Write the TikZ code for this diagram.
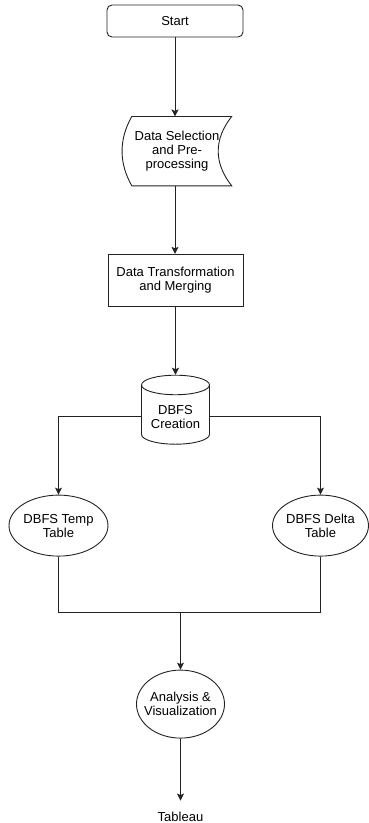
\documentclass[tikz,border=0pt]{standalone}
\usepackage{fontspec}
\setmainfont{Liberation Sans}
\usetikzlibrary{arrows.meta,positioning,shapes.geometric,calc}
\definecolor{inkgray}{HTML}{222222}
\tikzset{
  startbox/.style={
    rectangle,
    rounded corners=5pt,
    draw=inkgray,
    line width=0.9pt,
    align=center,
    minimum width=136pt,
    minimum height=32pt
  },
  procbox/.style={
    rectangle,
    draw=inkgray,
    line width=0.9pt,
    align=center,
    minimum width=135pt,
    minimum height=52pt
  },
  storebox/.style={
    rectangle,
    align=center,
    minimum width=109pt,
    minimum height=69pt
  },
  dbbox/.style={
    cylinder,
    shape border rotate=90,
    aspect=0.35,
    draw=inkgray,
    line width=0.9pt,
    align=center,
    minimum width=68pt,
    minimum height=69pt
  },
  tablebox/.style={
    ellipse,
    draw=inkgray,
    line width=0.9pt,
    align=center,
    inner xsep=-2pt,
    inner ysep=0pt,
    minimum width=99pt,
    minimum height=61pt
  },
  plain/.style={align=center,inner sep=0pt},
  line/.style={line width=0.9pt,draw=inkgray},
  arrow/.style={-{Stealth[length=7pt,width=7pt,inset=1.5pt]},line width=0.9pt,draw=inkgray}
}
\begin{document}
\begin{tikzpicture}[x=1pt,y=1pt,font=\fontsize{13}{14}\selectfont]
    \useasboundingbox (0,0) rectangle (369,-823);

    \node[startbox] (start) at (175,-21) {Start};
    \node[storebox,below=79pt of start,xshift=2pt] (select) {Data Selection\\and Pre-\\processing};
    \node[procbox,below=68pt of select,xshift=-1.5pt] (trans) {Data Transformation\\and Merging};
    \node[dbbox,below=68pt of trans] (dbfs) {DBFS\\Creation};
    \node[tablebox,below=50pt of dbfs,xshift=-117pt] (temp) {DBFS Temp\\Table};
    \node[tablebox,below=50pt of dbfs,xshift=145pt,minimum width=96pt] (delta) {DBFS Delta\\Table};
    \node[tablebox,below=225pt of dbfs,xshift=5pt,inner xsep=-6pt,minimum width=88pt,minimum height=68pt] (ana) {Analysis \&\\Visualization};
    \node[plain,below=73pt of ana] (tab) {Tableau};
    \coordinate[above=57pt of ana] (join);

    % stored data outline
    \draw[line] ([xshift=9.5pt]select.north west) -- (select.north east)
      .. controls +(-18pt,-23pt) and +(-18pt,23pt) .. (select.south east)
      -- ([xshift=9.5pt]select.south west)
      .. controls +(-13pt,23pt) and +(-13pt,-23pt) .. ([xshift=9.5pt]select.north west) -- cycle;

    \draw[arrow] (start) -- (start |- select.north);
    \draw[arrow] (start |- select.south) -- (start |- trans.north);
    \draw[arrow] (trans) -- (dbfs);
    \draw[arrow] (dbfs.west) -| (temp.north);
    \draw[arrow] (dbfs.east) -| (delta.north);
    \draw[line] (temp.south) |- (join) -| (delta.south);
    \draw[arrow] (join) -- (ana);
    \draw[arrow,shorten >=11pt] (ana) -- (tab);
  \end{tikzpicture}
\end{document}
